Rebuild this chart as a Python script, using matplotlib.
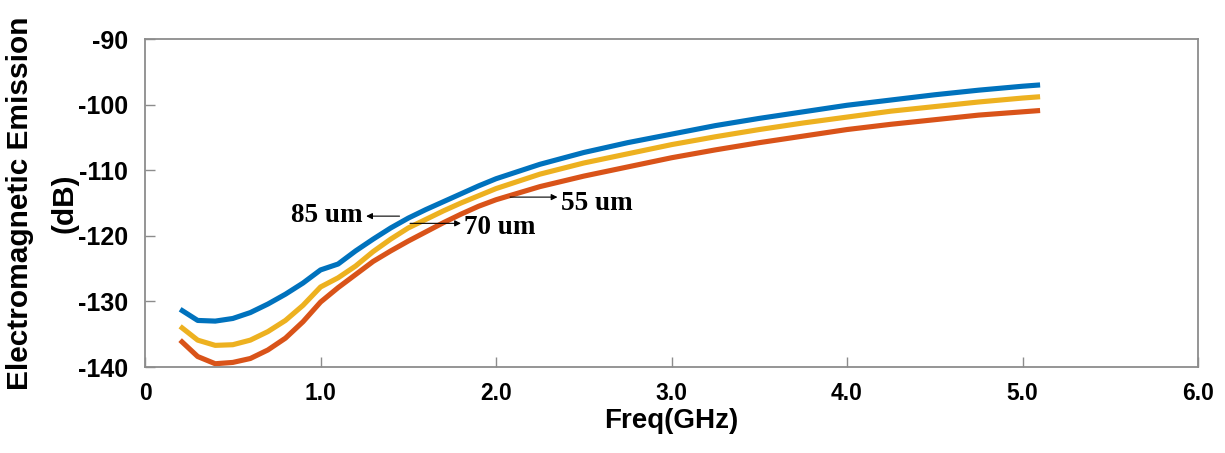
import matplotlib

matplotlib.use("Agg")
import matplotlib.pyplot as plt

plt.rcParams["axes.unicode_minus"] = False

# frequency points (GHz)
freq = [0.2, 0.3, 0.4, 0.5, 0.6, 0.7, 0.8, 0.9, 1.0, 1.1, 1.2, 1.3, 1.4, 1.5,
        1.6, 1.7, 1.8, 1.9, 2.0, 2.25, 2.5, 2.75, 3.0, 3.25, 3.5, 3.75, 4.0,
        4.25, 4.5, 4.75, 5.0, 5.1]

# emission (dB) for each pad size
em_85um = [-131.2, -132.9, -133.0, -132.6, -131.7, -130.4, -128.9, -127.2, -125.2, -124.3,
           -122.3, -120.5, -118.8, -117.3, -116.0, -114.8, -113.6, -112.4, -111.3, -109.1,
           -107.3, -105.8, -104.5, -103.2, -102.1, -101.1, -100.1, -99.3, -98.5, -97.8,
           -97.2, -97.0]
em_70um = [-133.8, -135.9, -136.7, -136.6, -135.9, -134.6, -132.9, -130.6, -127.8, -126.4,
           -124.6, -122.4, -120.5, -118.8, -117.5, -116.2, -115.0, -113.9, -112.8, -110.6,
           -108.9, -107.5, -106.1, -104.9, -103.8, -102.8, -101.9, -101.0, -100.3, -99.6,
           -99.0, -98.8]
em_55um = [-135.9, -138.4, -139.5, -139.3, -138.7, -137.4, -135.6, -133.1, -130.1, -127.9,
           -125.9, -123.9, -122.3, -120.8, -119.4, -118.0, -116.7, -115.5, -114.5, -112.5,
           -110.9, -109.5, -108.1, -106.9, -105.8, -104.8, -103.8, -103.0, -102.3, -101.6,
           -101.1, -100.9]

xticks = [0, 1, 2, 3, 4, 5, 6]
xtick_labels = ["0", "1.0", "2.0", "3.0", "4.0", "5.0", "6.0"]
yticks = [-140, -130, -120, -110, -100, -90]

fig = plt.figure(figsize=(12.25, 4.53), dpi=100)
ax = fig.add_axes([0.1184, 0.1898, 0.8596, 0.7241])

ax.plot(freq, em_85um, color="#0072BD", lw=3.7, solid_capstyle="butt")
ax.plot(freq, em_70um, color="#EDB120", lw=3.7, solid_capstyle="butt")
ax.plot(freq, em_55um, color="#D95319", lw=3.7, solid_capstyle="butt")

ax.set_xlim(0, 6)
ax.set_ylim(-140, -90)
ax.set_xticks(xticks)
ax.set_xticklabels(xtick_labels)
ax.set_yticks(yticks)

for s in ax.spines.values():
    s.set_color("#8c8c8c")
    s.set_linewidth(1.3)
ax.tick_params(direction="in", length=7, width=1, color="#8c8c8c", top=False, right=False)
ax.tick_params(axis="y", pad=12)
ax.tick_params(axis="x", pad=11)
for lab in ax.get_yticklabels():
    lab.set_fontfamily("Liberation Sans")
    lab.set_fontweight("bold")
    lab.set_fontsize(18)
for lab in ax.get_xticklabels():
    lab.set_fontfamily(["Liberation Sans Narrow", "Liberation Sans"])
    lab.set_fontweight("bold")
    lab.set_fontsize(16.5)

ax.set_xlabel("Freq(GHz)", fontsize=20, fontweight="bold", family="Liberation Sans", labelpad=2)
ax.set_ylabel("Electromagnetic Emission\n(dB)", fontsize=21.5, fontweight="bold",
              family="Liberation Sans", linespacing=1.75, labelpad=0)

# labels with arrows
arrow = dict(arrowstyle="-|>", color="black", lw=0.8, mutation_scale=9, shrinkA=0, shrinkB=0)
txt = dict(fontsize=19.5, fontweight="bold", family="Liberation Serif", va="center")
ax.annotate("", xy=(1.26, -117.0), xytext=(1.45, -117.0), arrowprops=arrow)
ax.text(1.24, -116.9, "85 um", ha="right", **txt)
ax.annotate("", xy=(1.80, -118.1), xytext=(1.51, -118.1), arrowprops=arrow)
ax.text(1.82, -118.8, "70 um", ha="left", **txt)
ax.annotate("", xy=(2.35, -114.1), xytext=(2.08, -114.1), arrowprops=arrow)
ax.text(2.37, -115.0, "55 um", ha="left", **txt)

fig.savefig("out.png", dpi=100)
